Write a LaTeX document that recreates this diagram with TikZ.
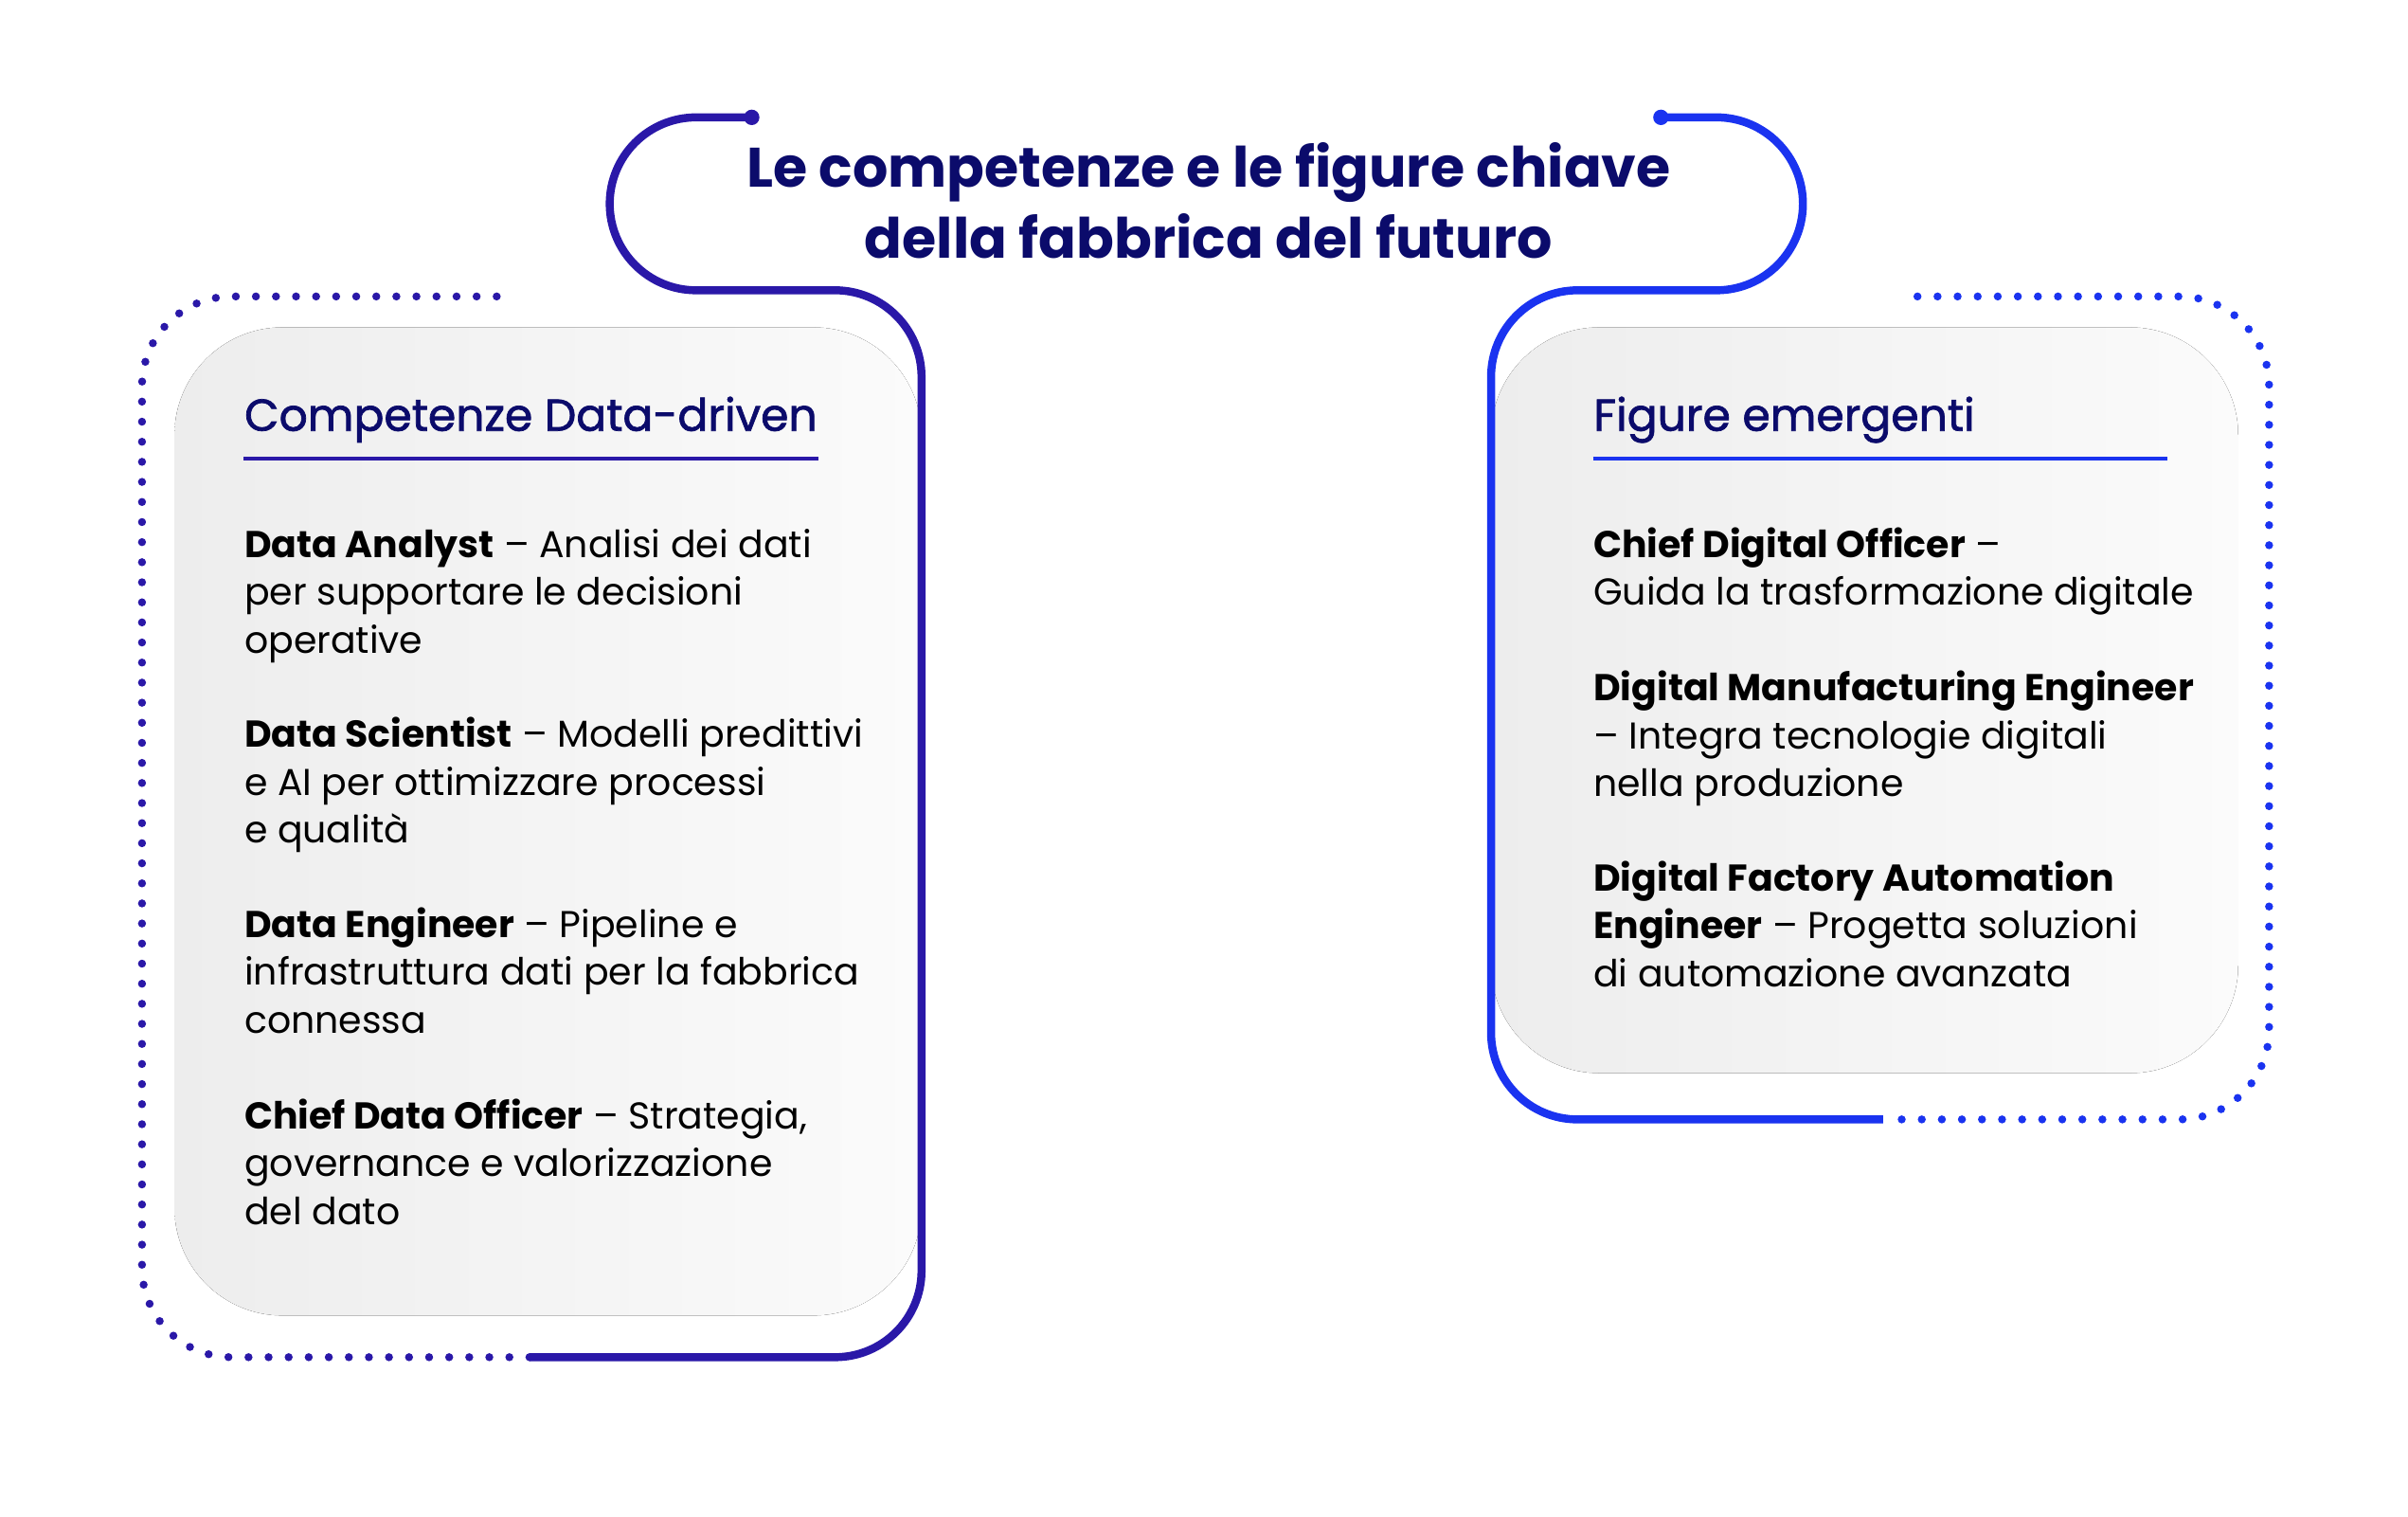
\documentclass[tikz,border=0pt]{standalone}
\usepackage{fontspec}
\setmainfont{Poppins}
\definecolor{navy}{HTML}{0B0B6B}
\definecolor{lineL}{HTML}{2A18A8}
\definecolor{lineR}{HTML}{1A33F0}
\definecolor{panelA}{HTML}{EDEDED}
\definecolor{panelB}{HTML}{FBFBFB}
\begin{document}
\begin{tikzpicture}[x=0.5pt,y=-0.5pt,
  panel/.style={rounded corners=35pt,left color=panelA,right color=panelB,draw=none},
  solidline/.style={line width=2.6pt,rounded corners=28pt},
  dotline/.style={line width=2.6pt,line cap=round,dash pattern=on 0pt off 6.5pt,rounded corners=29pt},
  ttl/.style={font=\bfseries\fontsize{18}{21}\selectfont,text=navy,inner sep=0},
  head/.style={font=\fontsize{14.5}{17}\selectfont\addfontfeatures{FakeBold=1.5},text=navy,anchor=base west,inner sep=0},
  item/.style={font=\fontsize{12.1}{15.5}\selectfont,anchor=base west,align=left,inner sep=0}]
\useasboundingbox[fill=white] (0,0) rectangle (1560,982);
\fill[panel] (113,212) rectangle (597,852);
\fill[panel] (966,212) rectangle (1450,695);
% left lines
\coordinate (ls) at (487,76);
\draw[lineL,solidline] (ls) -- (395,76) -- (395,188) -- (597,188) -- (597,879) -- (343,879);
\fill[lineL] (ls) circle[radius=5];
\draw[lineL,dotline] (343,879) -- (92,879) -- (92,192) -- (333,192);
% right lines
\coordinate (rs) at (1076,76);
\draw[lineR,solidline] (rs) -- (1168,76) -- (1168,188) -- (966,188) -- (966,725) -- (1220,725);
\fill[lineR] (rs) circle[radius=5];
\draw[lineR,dotline] (1232,725) -- (1470,725) -- (1470,192) -- (1232,192);
% title
\node[ttl,anchor=base] (t1) at (783,121) {Le competenze e le figure chiave};
\node[ttl,anchor=base] (t2) at (783,167) {della fabbrica del futuro};
% headings
\node[head] (hl) at (158,279) {Competenze Data-driven};
\draw[lineL,line width=1.5pt] (158,297) -- (530,297);
\node[head] (hr) at (1032,279) {Figure emergenti};
\draw[lineR,line width=1.5pt] (1032,297) -- (1404,297);
% left items (base anchor = last line)
\node[item] (a1) at (158,423) {\textbf{Data Analyst} – Analisi dei dati\\per supportare le decisioni\\operative};
\node[item] (a2) at (158,546) {\textbf{Data Scientist} – Modelli predittivi\\e AI per ottimizzare processi\\e qualità};
\node[item] (a3) at (158,669) {\textbf{Data Engineer} – Pipeline e\\infrastruttura dati per la fabbrica\\connessa};
\node[item] (a4) at (158,793) {\textbf{Chief Data Officer} – Strategia,\\governance e valorizzazione\\del dato};
% right items
\node[item] (b1) at (1032,392) {\textbf{Chief Digital Officer} –\\Guida la trasformazione digitale};
\node[item] (b2) at (1032,516) {\textbf{Digital Manufacturing Engineer}\\– Integra tecnologie digitali\\nella produzione};
\node[item] (b3) at (1032,639) {\textbf{Digital Factory Automation}\\\textbf{Engineer} – Progetta soluzioni\\di automazione avanzata};
\end{tikzpicture}
\end{document}
